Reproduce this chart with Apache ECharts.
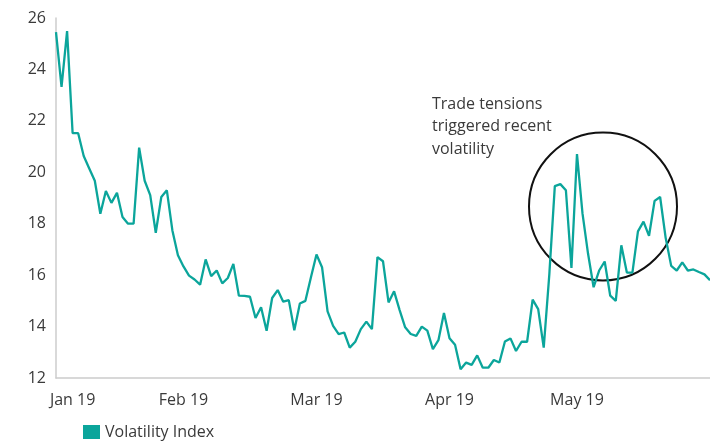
<!DOCTYPE html>
<html>
<head>
<meta charset="utf-8">
<script src="https://cdn.jsdelivr.net/npm/echarts@6/dist/echarts.min.js"></script>
<style>
html,body{margin:0;padding:0;background:#fff;}
#chart{width:710px;height:443px;}
</style>
</head>
<body>
<div id="chart"></div>
<script>
// Volatility Index, one value per trading day
const volatility = [
  25.45, 23.32, 25.49, 21.52, 21.52, 20.63, 20.15, 19.67, 18.39, 19.27,
  18.81, 19.20, 18.26, 18.00, 18.00, 20.96, 19.67, 19.11, 17.65, 19.04,
  19.30, 17.74, 16.77, 16.34, 15.98, 15.83, 15.63, 16.61, 15.96, 16.18,
  15.68, 15.89, 16.44, 15.20, 15.19, 15.16, 14.33, 14.75, 13.84, 15.11,
  15.42, 14.97, 15.03, 13.86, 14.90, 15.00, 15.92, 16.80, 16.31, 14.59,
  14.03, 13.71, 13.77, 13.18, 13.41, 13.90, 14.19, 13.90, 16.70, 16.54,
  14.94, 15.37, 14.64, 13.97, 13.71, 13.64, 14.00, 13.84, 13.12, 13.47,
  14.53, 13.55, 13.29, 12.34, 12.60, 12.51, 12.88, 12.40, 12.40, 12.70,
  12.60, 13.42, 13.54, 13.05, 13.41, 13.41, 15.05, 14.68, 13.18, 16.00,
  19.46, 19.54, 19.30, 16.28, 20.71, 18.39, 16.83, 15.53, 16.18, 16.53,
  15.20, 15.00, 17.16, 16.10, 16.10, 17.70, 18.08, 17.53, 18.89, 19.04,
  17.45, 16.36, 16.18, 16.50, 16.18, 16.22, 16.12, 16.03, 15.80
];
const tickLabels = ['Jan 19', 'Feb 19', 'Mar 19', 'Apr 19', 'May 19'];
const tickPositions = [3, 23, 47, 71, 94];
const seriesName = 'Volatility Index';
const annotationText = 'Trade tensions\ntriggered recent\nvolatility';

const categories = volatility.map((v, i) => {
  const k = tickPositions.indexOf(i);
  return k >= 0 ? tickLabels[k] : String(i);
});

const FONT = "'Open Sans', 'Liberation Sans', sans-serif";
const TEXT = '#3a3a3a';
const TEAL = '#0ba59b';

const chart = echarts.init(document.getElementById('chart'), null, {renderer: 'canvas'});
chart.setOption({
  animation: false,
  backgroundColor: '#fff',
  grid: {left: 56, right: -3, top: 18, bottom: 65, containLabel: false},
  xAxis: {
    type: 'category',
    data: categories,
    boundaryGap: false,
    axisLine: {show: true, lineStyle: {color: '#cccccc', width: 1.5}},
    axisTick: {show: false},
    axisLabel: {
      interval: (idx) => tickPositions.indexOf(idx) >= 0,
      color: TEXT, fontFamily: FONT, fontSize: 16, margin: 14
    },
    splitLine: {show: false}
  },
  yAxis: {
    type: 'value',
    min: 12, max: 26, interval: 2,
    axisLine: {show: true, lineStyle: {color: '#cccccc', width: 1.5}},
    axisTick: {show: false},
    axisLabel: {color: TEXT, fontFamily: FONT, fontSize: 16, margin: 10},
    splitLine: {show: false}
  },
  legend: {
    left: 78, top: 419,
    itemWidth: 17, itemHeight: 14, itemGap: 10,
    icon: 'rect',
    textStyle: {color: TEXT, fontFamily: FONT, fontSize: 16},
    data: [seriesName]
  },
  series: [{
    name: seriesName,
    type: 'line',
    data: volatility,
    symbol: 'none',
    lineStyle: {color: TEAL, width: 2.3},
    itemStyle: {color: TEAL}
  }],
  graphic: [
    {
      type: 'text', left: 432, top: 93,
      style: {text: annotationText, fill: TEXT, font: '16px ' + FONT, lineHeight: 22.5}
    },
    {
      type: 'circle', shape: {cx: 603, cy: 206.5, r: 74},
      style: {fill: 'none', stroke: '#111', lineWidth: 2}
    }
  ]
});
</script>
</body>
</html>
